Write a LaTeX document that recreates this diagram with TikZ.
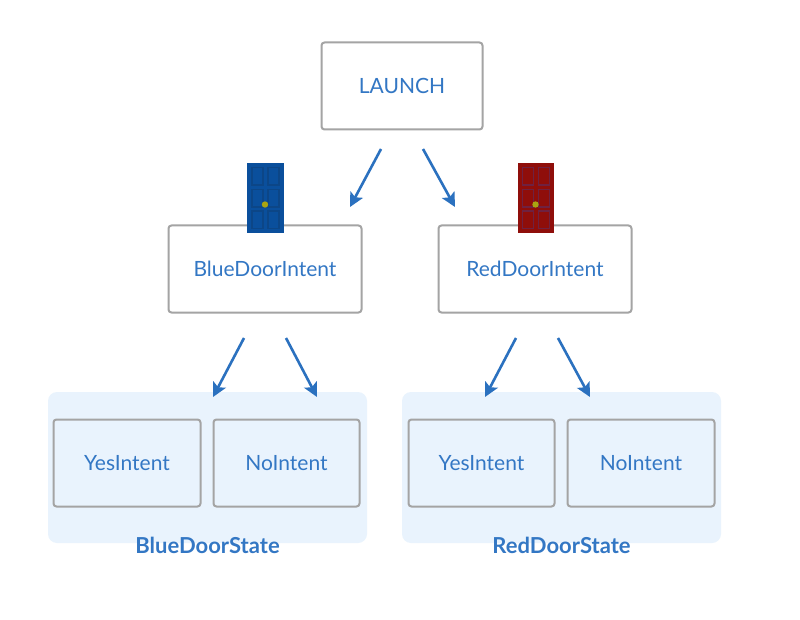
\documentclass[tikz,border=0pt]{standalone}
\usepackage{fontspec}
\setmainfont{Lato}
\usetikzlibrary{arrows.meta}
\definecolor{txtblue}{HTML}{3377C4}
\definecolor{arrblue}{HTML}{2B71BF}
\definecolor{boxgray}{HTML}{A4A4A4}
\definecolor{panelblue}{HTML}{E9F3FD}
\definecolor{doorblue}{HTML}{0A4F9C}
\definecolor{doorbluep}{HTML}{0C4687}
\definecolor{doorred}{HTML}{8F0E0A}
\definecolor{doorredp}{HTML}{6F2140}
\definecolor{knob}{HTML}{A9A512}
\tikzset{
  x=1pt,y=-1pt,
  intentbox/.style={draw=boxgray,line width=2pt,rounded corners=3pt,fill=#1,text=txtblue,font=\fontsize{21}{24}\selectfont,inner sep=0pt,anchor=center},
  intentbox/.default=white,
  statepanel/.style={fill=panelblue,rounded corners=9pt,draw=none,inner sep=0pt,minimum width=319pt,minimum height=151pt},
  statelabel/.style={text=txtblue,font=\fontsize{22}{24}\selectfont\bfseries,inner sep=0pt},
  flow/.style={draw=arrblue,line width=2.6pt,-{Stealth[length=14pt,width=14pt,inset=3pt]}},
}
\newcommand{\doorpic}[4]{%
  \fill[#2] (#1-18,163.5) rectangle (#1+18.5,233.5);
  \foreach \dx in {-13,3}{\foreach \ya/\yb in {167.5/185,189.5/207,211/228.5}{
    \draw[#3,line width=1.2pt] (#1+\dx,\ya) rectangle (#1+\dx+11,\yb);}}
  \fill[#4] (#1,204.5) circle (3.2);
}
\begin{document}
\begin{tikzpicture}
\useasboundingbox (0,0) rectangle (800,620);
\fill[white] (0,0) rectangle (800,620);
\node[statepanel] (bluepanel) at (207.5,467.5) {};
\node[statepanel] (redpanel) at (561.5,467.5) {};
\node[intentbox,minimum width=161pt,minimum height=87pt] (launch) at (402,86) {LAUNCH};
\node[intentbox,minimum width=193pt,minimum height=87pt] (bdi) at (265,269) {BlueDoorIntent};
\node[intentbox,minimum width=193pt,minimum height=87pt] (rdi) at (535,269) {RedDoorIntent};
\node[intentbox=panelblue,minimum width=147pt,minimum height=87pt] (byes) at (127,463) {YesIntent};
\node[intentbox=panelblue,minimum width=146pt,minimum height=87pt] (bno) at (286.5,463) {NoIntent};
\node[intentbox=panelblue,minimum width=146pt,minimum height=87pt] (ryes) at (481.5,463) {YesIntent};
\node[intentbox=panelblue,minimum width=147pt,minimum height=87pt] (rno) at (641,463) {NoIntent};
\node[statelabel] (bstate) at (207.5,545) {BlueDoorState};
\node[statelabel] (rstate) at (561.5,545) {RedDoorState};
\doorpic{265}{doorblue}{doorbluep}{knob}
\doorpic{535.5}{doorred}{doorredp}{knob}
\coordinate (a1s) at (381,149); \coordinate (a1e) at (350,207);
\coordinate (a2s) at (423,149); \coordinate (a2e) at (455,207);
\coordinate (a3s) at (244,338); \coordinate (a3e) at (213,397);
\coordinate (a4s) at (286,338); \coordinate (a4e) at (317,397);
\coordinate (a5s) at (516,338); \coordinate (a5e) at (485,397);
\coordinate (a6s) at (558,338); \coordinate (a6e) at (590,397);
\draw[flow] (a1s) -- (a1e);
\draw[flow] (a2s) -- (a2e);
\draw[flow] (a3s) -- (a3e);
\draw[flow] (a4s) -- (a4e);
\draw[flow] (a5s) -- (a5e);
\draw[flow] (a6s) -- (a6e);
\end{tikzpicture}
\end{document}
